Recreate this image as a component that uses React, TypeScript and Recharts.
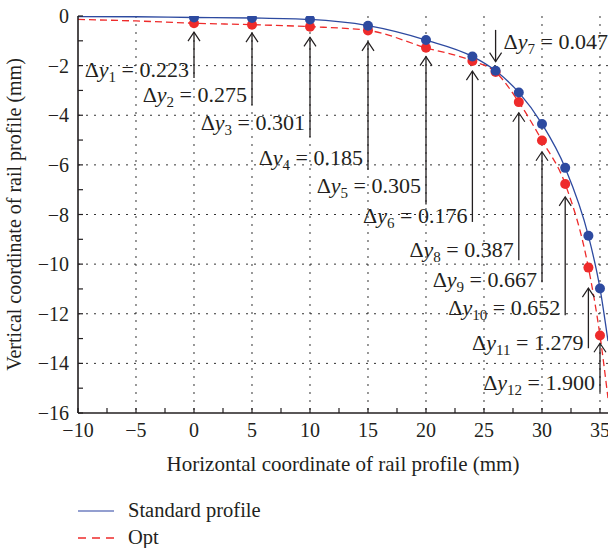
import React from 'react'
import {
  ComposedChart,
  Line,
  Scatter,
  XAxis,
  YAxis,
  CartesianGrid,
  ReferenceLine,
  ReferenceDot,
} from 'recharts'

const FONT = '"Liberation Serif", "DejaVu Serif", serif'
const INK = '#231f20'
const BLUE = '#2d4aa0'
const RED = '#ee2b2b'

// profile curves (mm)
const curveX = [-10, -5, 0, 5, 10, 15, 20, 24, 26, 28, 30, 32, 34, 35, 35.69]
const standardY = [-0.02, -0.03, -0.06, -0.08, -0.14, -0.39, -0.97, -1.63, -2.21, -3.08, -4.35, -6.12, -8.86, -10.98, -13.1]
const optY = [-0.14, -0.2, -0.29, -0.35, -0.43, -0.58, -1.28, -1.81, -2.26, -3.47, -5.02, -6.77, -10.14, -12.88, -15.4]

// measuring points
const dotX = [0, 5, 10, 15, 20, 24, 26, 28, 30, 32, 34, 35]

// Δy annotations
const deltaText = ['0.223', '0.275', '0.301', '0.185', '0.305', '0.176', '0.047', '0.387', '0.667', '0.652', '1.279', '1.900']
const arrowTip = [-0.65, -0.69, -0.86, -1.04, -1.64, -2.22, -1.84, -3.9, -5.47, -7.29, -10.97, -13.19]
const arrowTail = [-2.5, -3.59, -4.88, -6.2, -7.6, -8.3, -0.56, -9.84, -10.73, -12.06, -13.39, -15.16]
const labelY = [-2.18, -3.19, -4.31, -5.73, -6.85, -8.06, -1.05, -9.44, -10.65, -11.77, -13.19, -14.8]

const xTicks = [-10, -7.5, -5, -2.5, 0, 2.5, 5, 7.5, 10, 12.5, 15, 17.5, 20, 22.5, 25, 27.5, 30, 32.5, 35]
const yTicks = [-16, -15, -14, -13, -12, -11, -10, -9, -8, -7, -6, -5, -4, -3, -2, -1, 0]
const gridX = [-5, 0, 5, 10, 15, 20, 25, 30, 35]
const gridY = [-14, -12, -10, -8, -6, -4, -2]

const standardData = curveX.map((x, i) => ({ x, y: standardY[i] }))
const optData = curveX.map((x, i) => ({ x, y: optY[i] }))
const standardDots = standardData.filter(d => dotX.includes(d.x))
const optDots = optData.filter(d => dotX.includes(d.x))

const fmt = (v: number) => (v < 0 ? '\u2212' + Math.abs(v) : String(v))

function BottomTick({ x, y, payload }: any) {
  const major = payload.value % 5 === 0
  return (
    <g>
      <line x1={x} x2={x} y1={y} y2={y - 5} stroke={INK} strokeWidth={1.2} />
      {major && (
        <text x={x} y={y + 24} textAnchor="middle" fontFamily={FONT} fontSize={20} fill={INK}>
          {fmt(payload.value)}
        </text>
      )}
    </g>
  )
}

function TopTick({ x, y }: any) {
  return <line x1={x} x2={x} y1={y} y2={y + 5} stroke={INK} strokeWidth={1.2} />
}

function LeftTick({ x, y, payload }: any) {
  const major = payload.value % 2 === 0
  return (
    <g>
      <line x1={x} x2={x + 5} y1={y} y2={y} stroke={INK} strokeWidth={1.2} />
      {major && (
        <text x={x - 9} y={y + 7} textAnchor="end" fontFamily={FONT} fontSize={20} fill={INK}>
          {fmt(payload.value)}
        </text>
      )}
    </g>
  )
}

const dot = (color: string) => (p: any) => <circle cx={p.cx} cy={p.cy} r={5} fill={color} />

function ArrowHead({ cx, cy, down }: any) {
  const s = down ? -1 : 1
  return (
    <polyline
      points={`${cx - 6},${cy + s * 9} ${cx},${cy} ${cx + 6},${cy + s * 9}`}
      fill="none"
      stroke={INK}
      strokeWidth={1.2}
    />
  )
}

function DeltaLabel({ cx, cy, n, value, right }: any) {
  return (
    <text
      x={right ? cx + 8 : cx - 5}
      y={cy + 7}
      textAnchor={right ? 'start' : 'end'}
      fontFamily={FONT}
      fontSize={22}
      fill={INK}
    >
      Δ<tspan fontStyle="italic">y</tspan>
      <tspan fontSize={15} dy={5}>{n}</tspan>
      <tspan dy={-5}>{' = ' + value}</tspan>
    </text>
  )
}

export default function App() {
  return (
    <div style={{ position: 'absolute', left: 0, top: 0, width: 608, height: 548, fontFamily: FONT }}>
      <ComposedChart width={608} height={548} margin={{ top: 16, right: 0, left: 0, bottom: 70 }}>
        <CartesianGrid
          stroke="#333"
          strokeDasharray="2 6"
          horizontalValues={gridY}
          verticalValues={gridX}
        />
        <XAxis
          dataKey="x"
          type="number"
          domain={[-10, 35.69]}
          allowDataOverflow
          ticks={xTicks}
          interval={0}
          tickSize={0}
          tickMargin={0}
          tick={<BottomTick />}
          axisLine={{ stroke: INK, strokeWidth: 1.6 }}
          height={65}
          label={{
            value: 'Horizontal coordinate of rail profile (mm)',
            position: 'insideBottom',
            offset: 7,
            style: { fontFamily: FONT, fontSize: 21, fill: INK },
          }}
        />
        <XAxis
          xAxisId="top"
          orientation="top"
          dataKey="x"
          type="number"
          domain={[-10, 35.69]}
          allowDataOverflow
          ticks={xTicks}
          interval={0}
          tickSize={0}
          tickMargin={0}
          tick={<TopTick />}
          axisLine={{ stroke: INK, strokeWidth: 1.6 }}
          height={0}
        />
        <YAxis
          dataKey="y"
          type="number"
          domain={[-16, 0]}
          allowDataOverflow
          ticks={yTicks}
          interval={0}
          tickSize={0}
          tickMargin={0}
          tick={<LeftTick />}
          axisLine={{ stroke: INK, strokeWidth: 1.6 }}
          width={78}
          label={{
            value: 'Vertical coordinate of rail profile (mm)',
            angle: -90,
            position: 'insideLeft',
            offset: 14,
            style: { fontFamily: FONT, fontSize: 20, fill: INK, textAnchor: 'middle' },
          }}
        />

        <Line
          data={optData}
          dataKey="y"
          type="monotone"
          stroke={RED}
          strokeWidth={1.3}
          strokeDasharray="7 4"
          dot={false}
          isAnimationActive={false}
        />
        <Scatter data={optDots} dataKey="y" shape={dot(RED)} isAnimationActive={false} />
        <Line
          data={standardData}
          dataKey="y"
          type="monotone"
          stroke={BLUE}
          strokeWidth={1.3}
          dot={false}
          isAnimationActive={false}
        />
        <Scatter data={standardDots} dataKey="y" shape={dot(BLUE)} isAnimationActive={false} />

        {dotX.map((x, i) => (
          <ReferenceLine
            key={`seg-${i}`}
            segment={[{ x, y: arrowTip[i] }, { x, y: arrowTail[i] }]}
            stroke={INK}
            strokeWidth={1.3}
          />
        ))}
        {dotX.map((x, i) => (
          <ReferenceDot
            key={`head-${i}`}
            x={x}
            y={arrowTip[i]}
            shape={(p: any) => <ArrowHead cx={p.cx} cy={p.cy} down={arrowTail[i] > arrowTip[i]} />}
          />
        ))}
        {dotX.map((x, i) => (
          <ReferenceDot
            key={`lab-${i}`}
            x={x}
            y={labelY[i]}
            shape={(p: any) => (
              <DeltaLabel cx={p.cx} cy={p.cy} n={i + 1} value={deltaText[i]} right={arrowTail[i] > arrowTip[i]} />
            )}
          />
        ))}
      </ComposedChart>

      <div style={{ position: 'absolute', left: 78, top: 497, fontSize: 20.5, color: INK, lineHeight: '27px' }}>
        <div style={{ display: 'flex', alignItems: 'center' }}>
          <svg width={36} height={4} style={{ marginRight: 14 }}>
            <line x1={0} x2={36} y1={2} y2={2} stroke="#6f7fc0" strokeWidth={1.5} />
          </svg>
          Standard profile
        </div>
        <div style={{ display: 'flex', alignItems: 'center' }}>
          <svg width={36} height={4} style={{ marginRight: 14 }}>
            <line x1={0} x2={36} y1={2} y2={2} stroke={RED} strokeWidth={1.5} strokeDasharray="8 6" />
          </svg>
          Opt
        </div>
      </div>
    </div>
  )
}
